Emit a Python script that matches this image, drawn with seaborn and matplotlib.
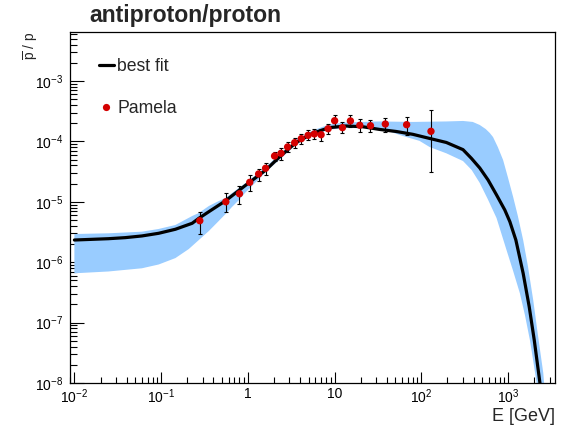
import numpy as np
import pandas as pd
import matplotlib
matplotlib.use("Agg")
import matplotlib.pyplot as plt
import seaborn as sns
from matplotlib.lines import Line2D
from matplotlib.ticker import LogLocator, FuncFormatter, NullFormatter

# ---------------- data ----------------
fit_E = [0.01, 0.0158, 0.0247, 0.0385, 0.060, 0.0936, 0.146, 0.228, 0.272, 0.355,
         0.553, 0.942, 1.61, 2.29, 3.57, 5.56, 8.67, 13.5, 21.0, 32.8, 51.2, 79.7,
         124.3, 194, 302, 377, 471, 587, 735, 916, 1047, 1228, 1490, 1750, 2000,
         2248, 2327, 2388]
fit_ratio = [2.33e-6, 2.39e-6, 2.45e-6, 2.55e-6, 2.72e-6, 3.01e-6, 3.51e-6, 4.41e-6,
             5.33e-6, 6.86e-6, 1.04e-5, 1.88e-5, 3.36e-5, 5.46e-5, 9.52e-5, 1.36e-4,
             1.69e-4, 1.80e-4, 1.75e-4, 1.58e-4, 1.46e-4, 1.31e-4, 1.12e-4, 9.6e-5,
             7.3e-5, 5.25e-5, 3.63e-5, 2.30e-5, 1.30e-5, 7.31e-6, 4.69e-6, 2.33e-6,
             6.55e-7, 1.83e-7, 5.15e-8, 1.45e-8, 1.0e-8, 6.8e-9]

band_up_E = [0.01, 0.0247, 0.060, 0.0936, 0.146, 0.228, 0.272, 0.355, 0.438, 0.553,
             0.942, 1.61, 2.29, 3.57, 5.56, 8.67, 13.5, 32.8, 79.7, 194, 302, 391,
             471, 552, 614, 670, 760, 875, 991, 1143, 1295, 1490, 1690, 1945, 2205,
             2541, 2656]
band_up = [2.93e-6, 3.01e-6, 3.20e-6, 3.55e-6, 4.13e-6, 5.82e-6, 6.53e-6, 8.52e-6,
           9.93e-6, 1.16e-5, 2.05e-5, 3.77e-5, 6.07e-5, 1.06e-4, 1.51e-4, 1.91e-4,
           2.06e-4, 2.14e-4, 2.10e-4, 2.14e-4, 2.18e-4, 2.10e-4, 1.87e-4, 1.60e-4,
           1.38e-4, 1.18e-4, 8.08e-5, 4.92e-5, 2.58e-5, 1.20e-5, 5.82e-6, 2.33e-6,
           8.65e-7, 2.37e-7, 6.23e-8, 1.47e-8, 6.8e-9]

band_lo_E = [0.01, 0.0247, 0.060, 0.0936, 0.146, 0.208, 0.272, 0.355, 0.438, 0.553,
             0.655, 0.789, 0.925, 1.086, 1.61, 2.29, 3.57, 5.56, 8.67, 13.5, 25.1,
             42.8, 61.0, 95.2, 124.3, 194, 302, 380, 471, 582, 735, 958, 1133, 1366,
             1561, 1782, 1956, 2130, 2205]
band_lo = [6.55e-7, 7.02e-7, 7.93e-7, 9.16e-7, 1.17e-6, 1.65e-6, 2.33e-6, 3.29e-6,
           4.46e-6, 6.28e-6, 8.2e-6, 1.07e-5, 1.40e-5, 1.76e-5, 3.11e-5, 4.92e-5,
           8.71e-5, 1.25e-4, 1.57e-4, 1.67e-4, 1.65e-4, 1.46e-4, 1.23e-4, 1.02e-4,
           8.08e-5, 6.35e-5, 4.73e-5, 3.36e-5, 2.05e-5, 1.11e-5, 5.39e-6, 1.59e-6,
           7.43e-7, 3.06e-7, 1.34e-7, 5.15e-8, 2.23e-8, 1.0e-8, 6.8e-9]

pamela_E = [0.279, 0.557, 0.80, 1.05, 1.33, 1.60, 2.03, 2.41, 2.87, 3.46, 4.13, 4.94,
            5.84, 6.98, 8.41, 10.0, 12.3, 15.2, 19.5, 25.9, 38.4, 67.6, 129]
pamela_ratio = [4.86e-6, 1.00e-5, 1.36e-5, 2.10e-5, 2.89e-5, 3.59e-5, 5.73e-5, 6.35e-5,
                8.08e-5, 9.52e-5, 1.11e-4, 1.26e-4, 1.33e-4, 1.29e-4, 1.62e-4, 2.20e-4,
                1.69e-4, 2.18e-4, 1.85e-4, 1.82e-4, 1.94e-4, 1.89e-4, 1.47e-4]
pamela_hi = [6.86e-6, 1.42e-5, 1.85e-5, 2.75e-5, 3.53e-5, 4.34e-5, 6.75e-5, 7.69e-5,
             9.89e-5, 1.15e-4, 1.34e-4, 1.53e-4, 1.60e-4, 1.58e-4, 1.94e-4, 2.74e-4,
             2.07e-4, 2.70e-4, 2.32e-4, 2.26e-4, 2.41e-4, 2.51e-4, 3.27e-4]
pamela_lo = [2.93e-6, 6.70e-6, 9.2e-6, 1.53e-5, 2.24e-5, 2.81e-5, 4.79e-5, 4.94e-5,
             6.6e-5, 7.87e-5, 9.16e-5, 1.04e-4, 1.10e-4, 1.03e-4, 1.34e-4, 1.75e-4,
             1.36e-4, 1.75e-4, 1.45e-4, 1.42e-4, 1.45e-4, 1.28e-4, 3.11e-5]

title = "antiproton/proton"
xlabel = "E [GeV]"
ylabel = r"$\overline{\mathrm{p}}$ / p"
legend_labels = ["best fit", "Pamela"]

# ---------------- style ----------------
sns.set_theme(style="white")
plt.rcParams["font.family"] = ["Liberation Sans", "DejaVu Sans"]
plt.rcParams["mathtext.fontset"] = "custom"
plt.rcParams["mathtext.rm"] = "Liberation Sans"
plt.rcParams["mathtext.it"] = "Liberation Sans:italic"
plt.rcParams["mathtext.bf"] = "Liberation Sans:bold"

fig = plt.figure(figsize=(5.65, 4.28), dpi=100)
ax = fig.add_axes([70 / 565, 1 - 383 / 428, 485 / 565, (383 - 31.7) / 428])

ax.set_xscale("log")
ax.set_yscale("log")

# uncertainty band
poly_x = np.concatenate([band_up_E, band_lo_E[::-1]])
poly_y = np.concatenate([band_up, band_lo[::-1]])
ax.fill(poly_x, poly_y, color="#99ccff", lw=0, zorder=1)

# best fit curve
fit_df = pd.DataFrame({"E": fit_E, "ratio": fit_ratio})
sns.lineplot(data=fit_df, x="E", y="ratio", ax=ax, color="black", lw=2.3,
             zorder=3, sort=False)

# Pamela points
pam = pd.DataFrame({"E": pamela_E, "ratio": pamela_ratio,
                    "hi": pamela_hi, "lo": pamela_lo})
yerr = np.vstack([pam["ratio"] - pam["lo"], pam["hi"] - pam["ratio"]])
ax.errorbar(pam["E"], pam["ratio"], yerr=yerr, fmt="none", ecolor="black",
            elinewidth=0.8, capsize=1.2, capthick=0.8, zorder=4)
sns.scatterplot(data=pam, x="E", y="ratio", ax=ax, color="#d40000", s=28,
                edgecolor="none", zorder=5)

ax.set_xlim(0.0089, 3470)
ax.set_ylim(1e-8, 6.55e-3)

# ticks
def fmt(v, pos):
    e = int(round(np.log10(v)))
    if e == 0:
        return "1"
    if e == 1:
        return "10"
    return r"$\mathregular{10^{%d}}$" % e

for axis in (ax.xaxis, ax.yaxis):
    axis.set_major_locator(LogLocator(base=10, numticks=20))
    axis.set_minor_locator(LogLocator(base=10, subs=np.arange(2, 10), numticks=20))
    axis.set_major_formatter(FuncFormatter(fmt))
    axis.set_minor_formatter(NullFormatter())

ax.tick_params(axis="both", which="both", direction="in", bottom=True, left=True,
               top=False, right=False, colors="black", labelsize=10, width=0.8)
ax.tick_params(axis="x", which="major", length=8, pad=3)
ax.tick_params(axis="x", which="minor", length=4.3)
ax.tick_params(axis="y", which="major", length=10, pad=5)
ax.tick_params(axis="y", which="minor", length=5)

for sp in ax.spines.values():
    sp.set_color("black")
    sp.set_linewidth(0.9)

ax.set_xlabel(xlabel, fontsize=13, loc="right")
ax.xaxis.set_label_coords(1.0, -0.071)
ax.set_ylabel(ylabel, fontsize=10, loc="top")
ax.yaxis.set_label_coords(-0.060, 1.0)

fig.text(89 / 565, 1 - 22 / 428, title, fontsize=16.6, fontweight="bold",
         ha="left", va="baseline")

handles = [Line2D([], [], color="black", lw=2.3),
           Line2D([], [], color="#d40000", marker="o", markersize=5.2, lw=0,
                  markeredgewidth=0)]
ax.legend(handles, legend_labels, loc="upper left",
          bbox_to_anchor=(0.045, 0.944), frameon=False, fontsize=12.7,
          handlelength=0.85, handletextpad=0.2, labelspacing=1.42,
          borderaxespad=0)

fig.savefig("out.png", dpi=100)
